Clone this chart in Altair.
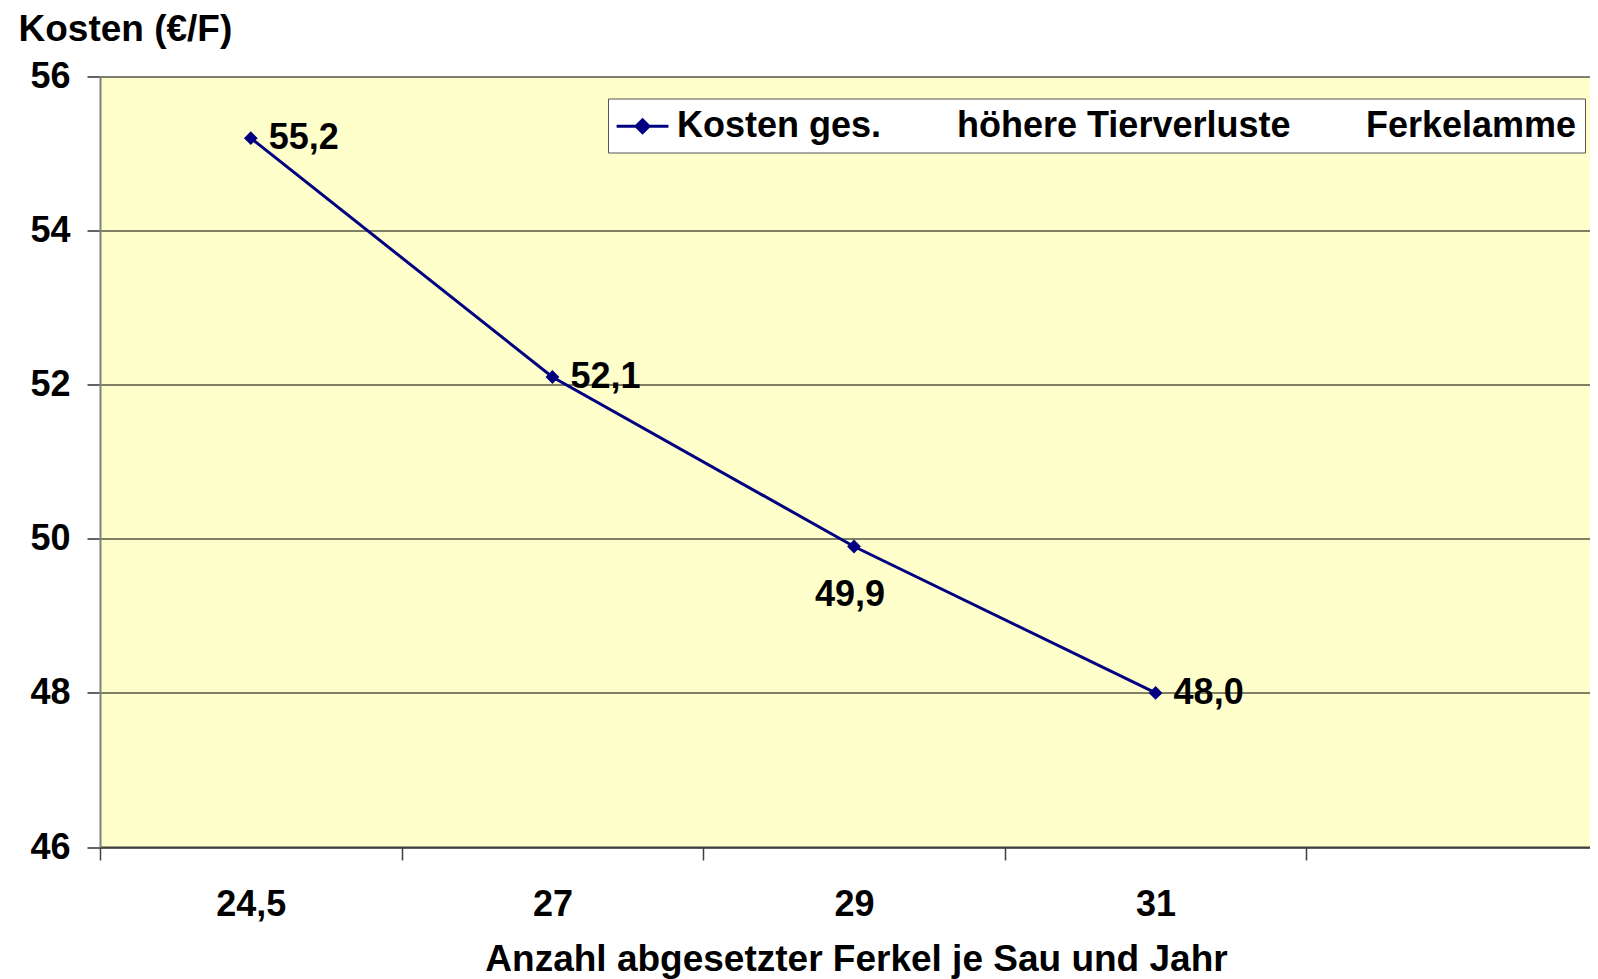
import altair as alt
import pandas as pd

# ---- data ----
categories = ["24,5", "27", "29", "31", " "]
x_values = ["24,5", "27", "29", "31"]
kosten = [55.2, 52.1, 49.9, 48.0]
value_labels = ["55,2", "52,1", "49,9", "48,0"]
series = ["Kosten ges.", "höhere Tierverluste", "Ferkelamme"]
series_colors = ["#000080", "transparent", "transparent"]
y_ticks = [46, 48, 50, 52, 54, 56]

df = pd.DataFrame({"x": x_values, "y": kosten, "label": value_labels,
                   "serie": [series[0]] * len(x_values)})

FONT = "Liberation Sans"
NAVY = "#000080"

xscale = alt.Scale(type="band", domain=categories, range=[0, 1508],
                   paddingInner=0, paddingOuter=0)
yscale = alt.Scale(domain=[46, 56], nice=False, zero=False)

x_axis = alt.Axis(
    title="Anzahl abgesetzter Ferkel je Sau und Jahr",
    tickBand="extent", labelAngle=0,
    labelFont=FONT, labelFontSize=36, labelFontWeight="bold", labelColor="black",
    labelPadding=27, labelBaseline="top",
    tickSize=13, tickColor="#404040", tickWidth=1.5,
    domainColor="#404040", domainWidth=2, grid=False,
    titleFont=FONT, titleFontSize=37, titleFontWeight="bold", titleColor="black",
    titleX=756, titleY=123, titleBaseline="alphabetic", titleAlign="center",
)
y_axis = alt.Axis(
    values=y_ticks, format="d", title="Kosten (€/F)",
    titleAngle=0, titleAlign="left", titleBaseline="alphabetic",
    titleX=-82, titleY=-36.5,
    titleFont=FONT, titleFontSize=37, titleFontWeight="bold", titleColor="black",
    labelFont=FONT, labelFontSize=36, labelFontWeight="bold", labelColor="black",
    labelPadding=17, tickSize=13, tickColor="#303030", tickWidth=1.5,
    domainColor="#808080", domainWidth=2,
    grid=True, gridColor="#000000", gridWidth=1,
)

legend = alt.Legend(
    title=None, orient="none", legendX=508, legendY=22, direction="horizontal",
    fillColor="white", strokeColor="#555555", padding=8,
    labelFont=FONT, labelFontSize=36, labelFontWeight="bold", labelColor="black",
    labelLimit=600,
    symbolType=("M-1.05,0L1.83,0"
                "M0.03,0L0.39,-0.36L0.75,0L0.39,0.36Z"
                "M0.2,0L0.39,-0.19L0.58,0L0.39,0.19Z"
                "M0.32,0L0.39,-0.07L0.46,0L0.39,0.07Z"),
    symbolSize=1296, symbolStrokeWidth=3, labelOffset=22, columnPadding=8,
)

base = alt.Chart(df)

line = base.mark_line(strokeWidth=3).encode(
    x=alt.X("x:N", scale=xscale, axis=x_axis, bandPosition=0.5),
    y=alt.Y("y:Q", scale=yscale, axis=y_axis),
    color=alt.Color("serie:N", scale=alt.Scale(domain=series, range=series_colors),
                    legend=legend),
)

points = base.mark_point(shape="diamond", filled=True, size=190, opacity=1).encode(
    x=alt.X("x:N", scale=xscale, bandPosition=0.5),
    y=alt.Y("y:Q", scale=yscale),
    color=alt.value(NAVY),
)

text_right = base.transform_filter(alt.datum.x != "29").mark_text(
    align="left", baseline="middle", dx=18, font=FONT, fontSize=36,
    fontWeight="bold", color="black",
).encode(
    x=alt.X("x:N", scale=xscale, bandPosition=0.5),
    y=alt.Y("y:Q", scale=yscale),
    text="label:N",
)

text_below = base.transform_filter(alt.datum.x == "29").mark_text(
    align="center", baseline="middle", dx=-4, dy=48, font=FONT, fontSize=36,
    fontWeight="bold", color="black",
).encode(
    x=alt.X("x:N", scale=xscale, bandPosition=0.5),
    y=alt.Y("y:Q", scale=yscale),
    text="label:N",
)

chart = alt.layer(line, points, text_right, text_below).properties(
    width=1490, height=770.5,
    autosize=alt.AutoSizeParams(type="none"),
    padding={"left": 92, "top": 68.5, "right": 0, "bottom": 132},
    background="white",
).configure_view(fill="#FFFFCC", stroke="transparent")

chart.save("out.html", embed_options={"renderer": "svg", "actions": False})
